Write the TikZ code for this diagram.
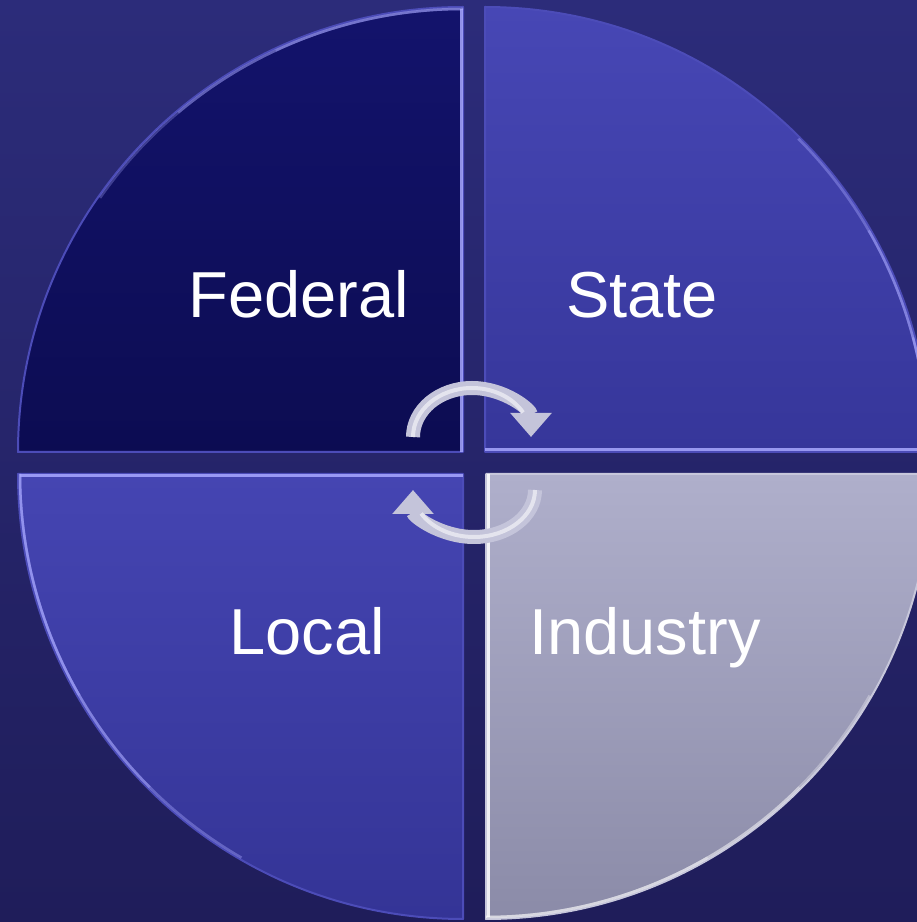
\documentclass[tikz,border=0pt]{standalone}
\usepackage{fontspec}
\setmainfont{Liberation Sans}
\usetikzlibrary{arrows.meta}

\definecolor{bgtop}{HTML}{2C2C7A}
\definecolor{bgbot}{HTML}{1F1D5A}
\definecolor{fedtop}{HTML}{13136C}
\definecolor{fedbot}{HTML}{0C0C52}
\definecolor{statetop}{HTML}{4747B5}
\definecolor{statebot}{HTML}{36369A}
\definecolor{localtop}{HTML}{4545B2}
\definecolor{localbot}{HTML}{343496}
\definecolor{indtop}{HTML}{AFAFCB}
\definecolor{indbot}{HTML}{8B8BA8}
\definecolor{rimblue}{HTML}{4C4CB8}
\definecolor{glintblue}{HTML}{A8A8FF}
\definecolor{silver}{HTML}{C4C4DA}
\definecolor{silverdark}{HTML}{8E8EAC}

\begin{document}
\begin{tikzpicture}[x=1pt, y=1pt,
        quarter/.style = {draw=#1, line width=2pt, line join=round},
        glint/.style = {draw=glintblue, line width=3pt, opacity=0.85},
        softglint/.style = {draw=glintblue, line width=2.5pt, opacity=0.3},
        quadtext/.style = {text=white, anchor=base,
                           font=\fontsize{65}{70}\selectfont},
        cyclearrow/.style = {draw=#1, line width=14pt,
                             -{Triangle[length=24pt, width=40pt]}},
        shine/.style = {draw=white, line width=4pt, opacity=0.55}]
    \useasboundingbox (0,0) rectangle (917,922);
    \clip (0,0) rectangle (917,922);
    \shade[top color=bgtop, bottom color=bgbot] (0,0) rectangle (917,922);

    % corners of the four quarters
    \coordinate (fc) at (463,470);
    \coordinate (sc) at (485,470);
    \coordinate (lc) at (463,448);
    \coordinate (ic) at (486,448);

    % quarters
    \shadedraw[top color=fedtop, bottom color=fedbot, quarter=rimblue]
        (fc) -- ++(-445,0) arc[start angle=180, end angle=90, radius=445] -- cycle;
    \shadedraw[top color=statetop, bottom color=statebot, quarter=rimblue]
        (sc) -- ++(0,445) arc[start angle=90, end angle=0, radius=445] -- cycle;
    \shadedraw[top color=localtop, bottom color=localbot, quarter=rimblue]
        (lc) -- ++(0,-445) arc[start angle=270, end angle=180, radius=445] -- cycle;
    \shadedraw[top color=indtop, bottom color=indbot, quarter=indtop!70!white]
        (ic) -- ++(445,0) arc[start angle=0, end angle=-90, radius=445] -- cycle;

    % bevel highlights
    \draw[glint] ([xshift=-2pt]fc) -- ++(0,443);
    \draw[glint] ([yshift=2pt]sc) -- ++(443,0);
    \draw[glint] ([yshift=-2pt]lc) -- ++(-443,0);
    \draw[glint, draw=white] ([xshift=2pt]ic) -- ++(0,-443);
    \foreach \a in {15,30,45} {
        \draw[softglint] (fc) ++(0,443) arc[start angle=90, end angle=90+\a+10, radius=443];
        \draw[softglint, opacity=0.4] (sc) ++(443,0) arc[start angle=0, end angle=\a, radius=443];
        \draw[softglint, opacity=0.4] (lc) ++(-443,0) arc[start angle=180, end angle=180+\a+15, radius=443];
        \draw[softglint, draw=white] (ic) ++(0,-443) arc[start angle=270, end angle=270+\a+15, radius=443];
    }

    % labels
    \node[quadtext] (federal) at (299,604) {Federal};
    \node[quadtext] (state) at (642,604) {State};
    \node[quadtext] (local) at (307,267) {Local};
    \node[quadtext] (industry) at (645,267) {Industry};

    % cycle arrows
    \coordinate (upper) at (472,485);
    \coordinate (lower) at (474,432);
    \draw[cyclearrow=silver] (upper) ++(-59,0)
        arc[start angle=180, end angle=0, x radius=59, y radius=49];
    \draw[shine] (upper) ++(-59,0)
        arc[start angle=180, end angle=30, x radius=59, y radius=49];
    \draw[cyclearrow=silver] (lower) ++(61,0)
        arc[start angle=0, end angle=-180, x radius=61, y radius=47];
    \draw[shine] (lower) ++(61,0)
        arc[start angle=0, end angle=-150, x radius=61, y radius=47];
\end{tikzpicture}
\end{document}
